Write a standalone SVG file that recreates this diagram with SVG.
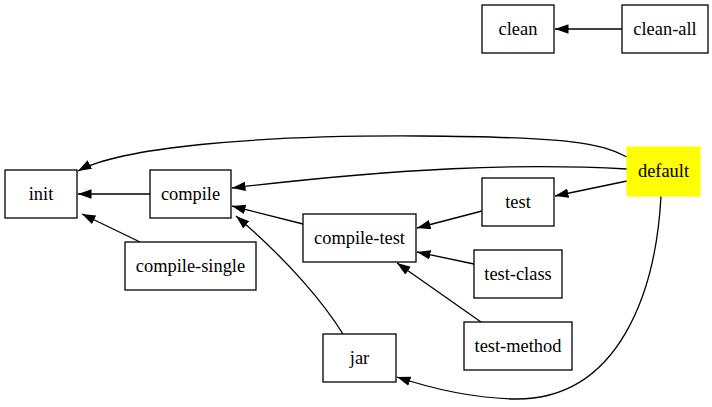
<svg xmlns="http://www.w3.org/2000/svg" width="712" height="407" viewBox="0 0 712 407">
<style>
.n rect{fill:#fff;stroke:#000;stroke-width:1.3}
.t text{font-size:18.4px;text-anchor:middle;fill:#000}
.e path{fill:none;stroke:#000;stroke-width:1.3;marker-end:url(#a)}
</style>
<defs>
<marker id="a" markerUnits="userSpaceOnUse" markerWidth="15" markerHeight="11" refX="13.5" refY="4.75" orient="auto">
<path d="M0,0 L13.5,4.75 L0,9.5 z" fill="#000"/>
</marker>
</defs>
<rect width="712" height="407" fill="#fff"/>
<g class="e">
<path d="M622,29 L555,29"/>
<path d="M627,157 C600,143 570,137 420,136 C250,135 120,148 78,171"/>
<path d="M627,169 C520,163 400,168 232,188"/>
<path d="M627,181 L555,196"/>
<path d="M482,211 L417,228"/>
<path d="M474,264 L417,252"/>
<path d="M481,322 L397,263"/>
<path d="M303,224 L232,206"/>
<path d="M343,334 C325,305 290,262 236,216"/>
<path d="M661,196 C656,290 620,400 515,399 C470,398 430,388 397,377"/>
<path d="M150,194 L78,194"/>
<path d="M140,242 L82,214"/>
</g>
<g class="t" font-family="Liberation Serif, Times New Roman, serif">
<g id="clean" class="n"><rect x="482" y="5" width="72" height="48"/><text x="518" y="35">clean</text></g>
<g id="clean-all" class="n"><rect x="622" y="5" width="86" height="48"/><text x="665" y="35">clean-all</text></g>
<g id="init" class="n"><rect x="5" y="170" width="72" height="48"/><text x="41" y="200">init</text></g>
<g id="compile" class="n"><rect x="150" y="170" width="81" height="48"/><text x="190.5" y="200">compile</text></g>
<g id="compile-single" class="n"><rect x="125" y="242" width="131" height="48"/><text x="190.5" y="272">compile-single</text></g>
<g id="compile-test" class="n"><rect x="303" y="214" width="113" height="48"/><text x="359.5" y="244">compile-test</text></g>
<g id="test" class="n"><rect x="482" y="178" width="72" height="48"/><text x="518" y="208">test</text></g>
<g id="test-class" class="n"><rect x="474" y="250" width="88" height="48"/><text x="518" y="280">test-class</text></g>
<g id="test-method" class="n"><rect x="464" y="322" width="108" height="48"/><text x="518" y="352">test-method</text></g>
<g id="jar" class="n"><rect x="323" y="334" width="73" height="48"/><text x="359.5" y="364">jar</text></g>
<g id="default"><rect x="627" y="147" width="73" height="49" fill="#ff0" stroke="#ff0"/><text x="663.5" y="177">default</text></g>
</g>
</svg>
